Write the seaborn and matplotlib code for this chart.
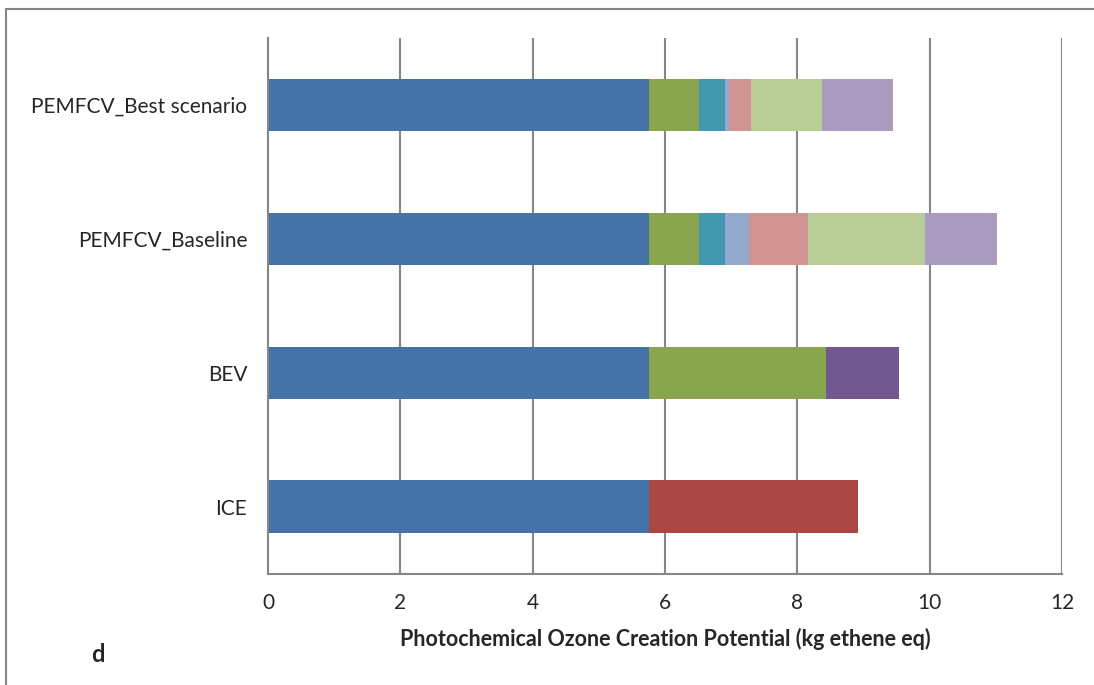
import pandas as pd
import numpy as np
import seaborn as sns
import matplotlib.pyplot as plt
from matplotlib.lines import Line2D

# datos (kg ethene eq)
vehiculos = ['PEMFCV_Best scenario', 'PEMFCV_Baseline', 'BEV', 'ICE']
best = [5.76, 0.75, 0.40, 0.06, 0.33, 1.08, 1.06]
baseline = [5.76, 0.75, 0.40, 0.36, 0.89, 1.77, 1.09]
bev = [5.76, 2.67, 1.11]
ice = [5.76, 3.16]

colores_pemfcv = ['#4572A7', '#89A54E', '#4198AF', '#93A9CF', '#D19392', '#B9CD96', '#A99BBD']
colores_bev = ['#4572A7', '#89A54E', '#71588F']
colores_ice = ['#4572A7', '#AA4643']

# tabla larga con el final acumulado de cada tramo
filas = []
for veh, vals, cols in [(vehiculos[0], best, colores_pemfcv),
                        (vehiculos[1], baseline, colores_pemfcv),
                        (vehiculos[2], bev, colores_bev),
                        (vehiculos[3], ice, colores_ice)]:
    fin = np.cumsum(vals)
    for k, (v, c) in enumerate(zip(fin, cols)):
        filas.append({'vehiculo': veh, 'tramo': k, 'fin': v, 'color': c})
df = pd.DataFrame(filas)

sns.set_style('white')
plt.rcParams['font.family'] = ['Lato', 'DejaVu Sans']

fig = plt.figure(figsize=(10.94, 6.85), dpi=100)
ax = fig.add_axes([268 / 1094, 1 - 573.5 / 685, (1062 - 268) / 1094, (573.5 - 38) / 685])

gris = '#868686'
for x in range(2, 13, 2):
    ax.axvline(x, color=gris, lw=1.5, zorder=0)

# se dibuja del tramo mas largo al mas corto para que queden apilados
paleta = {c: c for c in df['color'].unique()}
for k in sorted(df['tramo'].unique(), reverse=True):
    sub = df[df['tramo'] == k]
    sns.barplot(data=sub, x='fin', y='vehiculo', hue='color', palette=paleta,
                order=vehiculos, orient='h', width=0.39, dodge=False,
                legend=False, saturation=1, linewidth=0, ax=ax, zorder=2)

ax.set_xlim(0, 12)
ax.set_ylim(3.5, -0.5)
ax.set_xticks(range(0, 13, 2))
ax.set_xticklabels([str(x) for x in range(0, 13, 2)], fontsize=15)
ax.set_yticks(range(4))
ax.set_yticklabels(vehiculos, fontsize=15)
ax.set_yticks(np.arange(-0.5, 4, 1), minor=True)
ax.tick_params(axis='y', which='major', length=0, pad=15)
ax.tick_params(axis='y', which='minor', length=6, width=1.5, color=gris, direction='out')
ax.tick_params(axis='x', length=7, width=1.5, color=gris, direction='out', pad=7)
ax.set_xlabel('Photochemical Ozone Creation Potential (kg ethene eq)',
              fontsize=15.5, fontweight='bold', labelpad=11)
ax.set_ylabel('')

for s in ['top', 'right']:
    ax.spines[s].set_visible(False)
for s in ['left', 'bottom']:
    ax.spines[s].set_color(gris)
    ax.spines[s].set_linewidth(1.5)
    ax.spines[s].set_zorder(3)

fig.text(98 / 1094, 1 - 655 / 685, 'd', fontsize=17, fontweight='bold',
         ha='center', va='center')

# marco de la figura (solo arriba e izquierda)
fig.add_artist(Line2D([6 / 1094, 1], [1 - 9 / 685, 1 - 9 / 685], color=gris, lw=1.5))
fig.add_artist(Line2D([6 / 1094, 6 / 1094], [0, 1 - 9 / 685], color=gris, lw=1.5))

fig.savefig('out.png', dpi=100)
